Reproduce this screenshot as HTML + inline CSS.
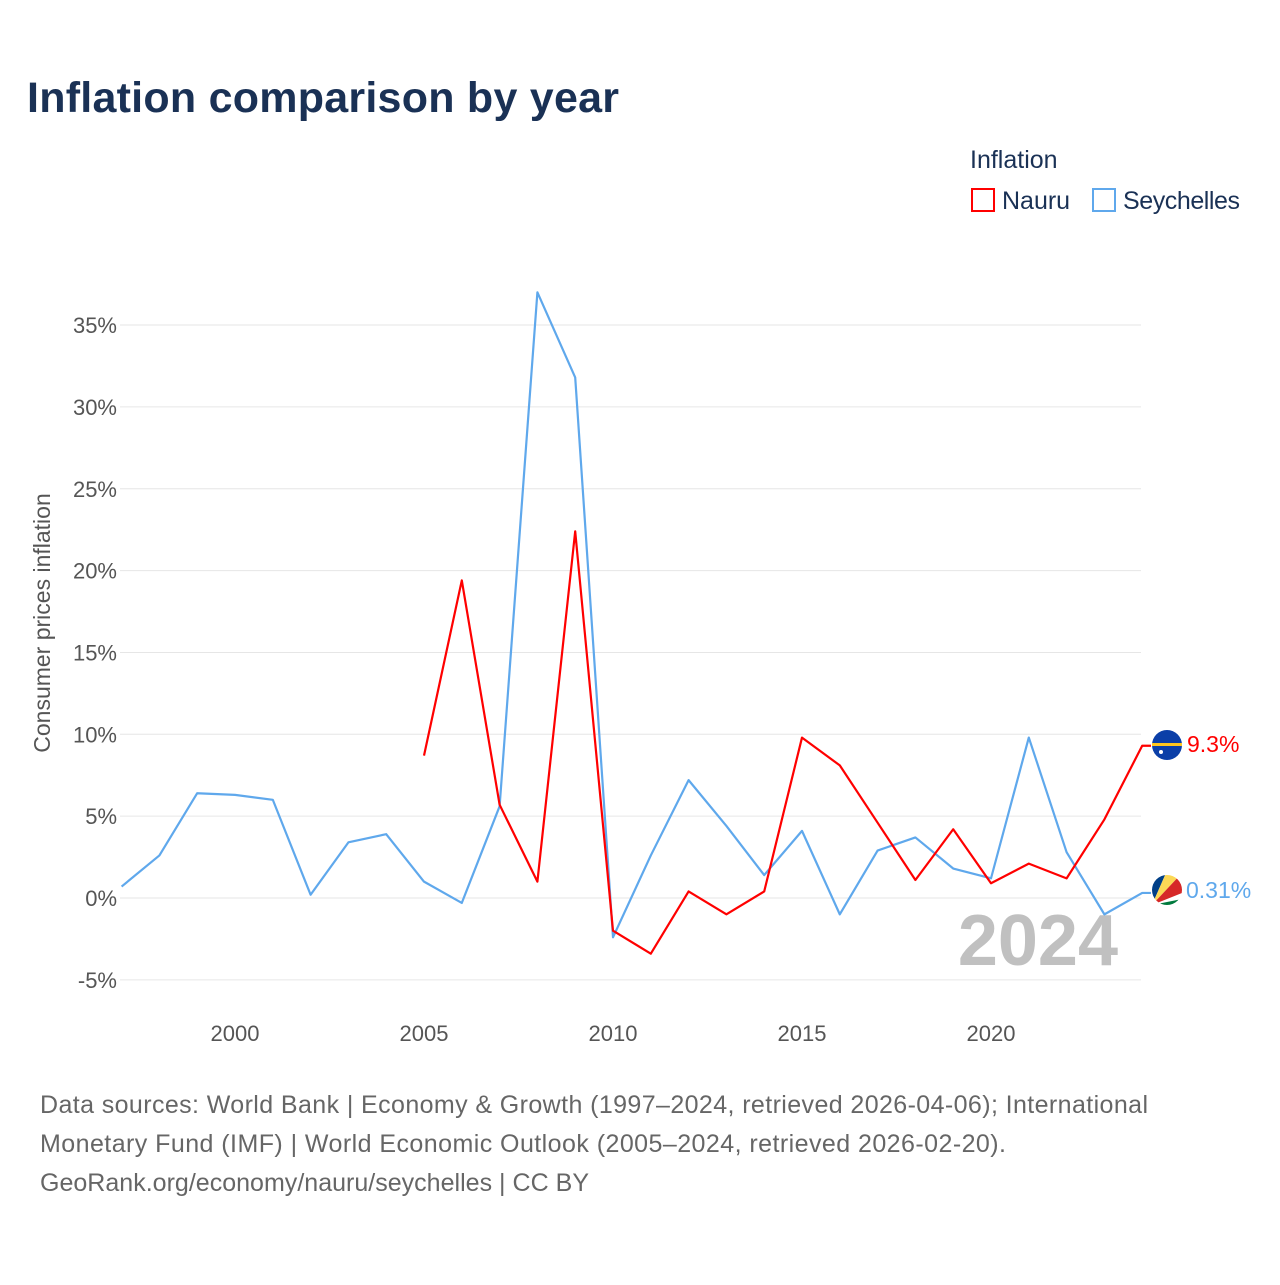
<!DOCTYPE html>
<html><head><meta charset="utf-8"><style>
body{margin:0;background:#fff;font-family:"Liberation Sans",sans-serif}
#wrap{position:relative;width:1280px;height:1280px}
</style></head><body><div id="wrap">
<svg id="svg" width="1280" height="1280" xmlns="http://www.w3.org/2000/svg">
<text x="27" y="112" font-size="43" font-weight="bold" fill="#1a3155" textLength="592">Inflation comparison by year</text>
<text x="970" y="168" font-size="25" fill="#1a3155">Inflation</text>
<g><rect x="972" y="189" width="22" height="22" fill="none" stroke="#f00" stroke-width="2"/><text x="1002" y="209" font-size="25" fill="#1a3155">Nauru</text></g>
<g><rect x="1093" y="189" width="22" height="22" fill="none" stroke="#5fa8ec" stroke-width="2"/><text x="1123" y="209" font-size="25" fill="#1a3155" textLength="117">Seychelles</text></g>
<text transform="translate(50,623) rotate(-90)" text-anchor="middle" font-size="23" fill="#555">Consumer prices inflation</text>
<g id="grid"></g><g id="yt"></g><g id="xt"></g>
<text x="1118" y="965" text-anchor="end" font-size="72" font-weight="bold" fill="#c0c0c0">2024</text>
<g id="lines"></g>
<g><circle cx="1167" cy="745" r="15" fill="#0b3fa8"/><rect x="1152" y="743" width="30" height="3" fill="#ffc61e"/><circle cx="1161" cy="752" r="2" fill="#fff"/></g>
<g><clipPath id="cp"><circle cx="1167" cy="890" r="15"/></clipPath><g clip-path="url(#cp)"><rect x="1150" y="873" width="34" height="34" fill="#fff"/><polygon points="1152,905 1152,873 1166,873" fill="#003f87"/><polygon points="1152,905 1166,873 1182,873" fill="#fcd856"/><polygon points="1152,905 1182,873 1182,893" fill="#d62828"/><polygon points="1152,905 1182,899 1182,907" fill="#007a3d"/></g></g>
<text x="1187" y="752" font-size="23" fill="#f00">9.3%</text>
<text x="1186" y="898" font-size="23" fill="#5fa8ec">0.31%</text>
<text font-size="25" fill="#666"><tspan x="40" y="1113" textLength="1108">Data sources: World Bank | Economy &amp; Growth (1997–2024, retrieved 2026-04-06); International</tspan><tspan x="40" y="1152" textLength="966">Monetary Fund (IMF) | World Economic Outlook (2005–2024, retrieved 2026-02-20).</tspan><tspan x="40" y="1191" textLength="549">GeoRank.org/economy/nauru/seychelles | CC BY</tspan></text>
</svg></div>
<script>
const yTicks=[-5,0,5,10,15,20,25,30,35];
const xTicks=[2000,2005,2010,2015,2020];
const seyYears=[1997,1998,1999,2000,2001,2002,2003,2004,2005,2006,2007,2008,2009,2010,2011,2012,2013,2014,2015,2016,2017,2018,2019,2020,2021,2022,2023,2024];
const seyVals=[0.7,2.6,6.4,6.3,6.0,0.2,3.4,3.9,1.0,-0.3,5.6,37.0,31.8,-2.4,2.6,7.2,4.4,1.4,4.1,-1.0,2.9,3.7,1.8,1.2,9.8,2.8,-1.0,0.31];
const nauYears=[2005,2006,2007,2008,2009,2010,2011,2012,2013,2014,2015,2016,2017,2018,2019,2020,2021,2022,2023,2024];
const nauVals=[8.7,19.4,5.7,1.0,22.4,-2.0,-3.4,0.4,-1.0,0.4,9.8,8.1,4.6,1.1,4.2,0.9,2.1,1.2,4.8,9.3];
const NS="http://www.w3.org/2000/svg";
const X=y=>121.6+(y-1997)*37.8, Y=v=>898-v*16.37;
function mk(t,a,p){const e=document.createElementNS(NS,t);for(const k in a)e.setAttribute(k,a[k]);document.getElementById(p).appendChild(e);return e;}
yTicks.forEach(v=>{const l=mk('line',{x1:120,x2:1141,y1:Y(v),y2:Y(v),stroke:'#e6e6e6','stroke-width':1},'grid');


const t=mk('text',{x:117,y:Y(v)+8,'text-anchor':'end','font-size':22,fill:'#555'},'yt');t.textContent=v+'%';

});
xTicks.forEach(v=>{const t=mk('text',{x:X(v),y:1041,'text-anchor':'middle','font-size':22,fill:'#555'},'xt');t.textContent=v;

});
function line(ys,vs,c,n){let d=ys.map((y,i)=>(i?'L':'M')+X(y)+','+Y(vs[i])).join(' ');d+=' L1151,'+Y(vs[vs.length-1]);
const p=mk('path',{d:d,fill:'none',stroke:c,'stroke-width':2.2,'stroke-linejoin':'round'},'lines');

}
line(seyYears,seyVals,'#5fa8ec','seychelles-line');
line(nauYears,nauVals,'#f00','nauru-line');
</script></body></html>
